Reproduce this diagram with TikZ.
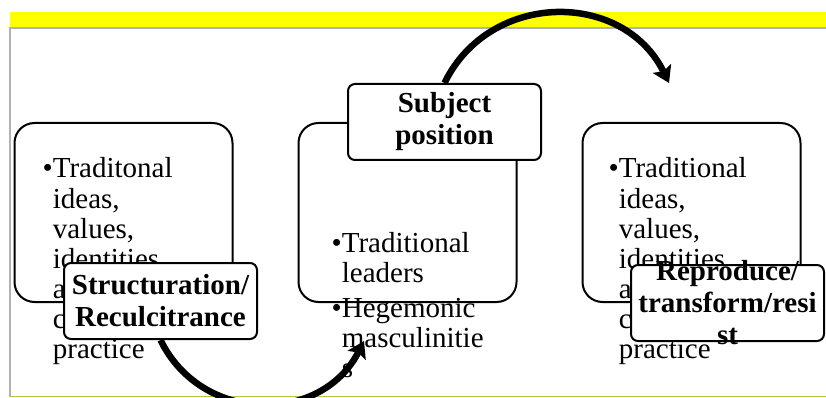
\documentclass[tikz,border=0pt]{standalone}
\usepackage{fontspec}
\setmainfont{Liberation Serif}
\usetikzlibrary{arrows.meta,backgrounds}
\definecolor{bandyellow}{RGB}{255,255,0}
\definecolor{framegray}{RGB}{178,178,178}
\definecolor{frameolive}{RGB}{185,196,60}
\begin{document}
\begin{tikzpicture}[x=1pt, y=1pt]

    % Styles
    \tikzstyle{bigbox} = [rectangle, rounded corners=20pt, minimum width=218pt, minimum height=179pt, draw=black, line width=2pt, fill=white]
    \tikzstyle{tagbox} = [rectangle, rounded corners=7pt, minimum width=193pt, minimum height=76pt, inner sep=0pt, draw=black, line width=2pt, fill=white, font=\bfseries\fontsize{29}{32}\selectfont]
    \tikzstyle{bullets} = [inner sep=0pt, anchor=base west, font=\fontsize{29}{30}\selectfont]
    \tikzstyle{curvearrow} = [line width=6.5pt, -{Stealth[length=16pt, width=20pt, inset=3pt]}]

    \useasboundingbox (0,0) rectangle (826,-398);

    % Boxes
    \node (box1) [bigbox] at (123.5,-212.5) {};
    \node (box2) [bigbox, right of=box1, node distance=284pt] {};
    \node (box3) [bigbox, right of=box2, node distance=284pt] {};

    % Texts
    \node (txt1) [bullets] at ([shift={(29,-56)}]box1.north west) {\begin{tabular}[t]{@{}l@{}l@{}}
        \textbullet & Traditonal\\ & ideas,\\ & values,\\ & identities\\ & and\\ & cultural\\ & practice
    \end{tabular}};
    \node (txt2) [bullets] at ([shift={(34,-130)}]box2.north west) {\begin{tabular}[t]{@{}l@{}l@{}}
        \textbullet & Traditional\\ & leaders\\[5pt] \textbullet & Hegemonic\\ & masculinitie\\ & s
    \end{tabular}};
    \node (txt3) [bullets] at ([shift={(27,-56)}]box3.north west) {\begin{tabular}[t]{@{}l@{}l@{}}
        \textbullet & Traditional\\ & ideas,\\ & values,\\ & identities\\ & and\\ & cultural\\ & practice
    \end{tabular}};

    % Labels
    \node (str) [tagbox, xshift=37pt, yshift=2pt] at (box1.south) {\parbox[c][76pt][c]{190pt}{\centering Structuration/\\Reculcitrance}};
    \node (sub) [tagbox, xshift=37pt] at (box2.north) {\parbox[c][76pt][c]{190pt}{\centering Subject\\position}};
    \node (rep) [tagbox, xshift=36pt] at (box3.south) {\parbox[c][76pt][c]{190pt}{\centering Reproduce/\\transform/resi\\st}};

    % Frame and arrows
    \begin{scope}[on background layer]
        \fill [bandyellow] (10,-12) rectangle (826,-27);
        \draw [framegray, line width=2pt] (9.5,-397) -- (9.5,-28) -- (826,-28);
        \draw [frameolive, line width=1.5pt] (9,-396.5) -- (826,-396.5);
        \coordinate (tip1) at (669,-83);
        \coordinate (tip2) at (364,-341);
        \draw [curvearrow] (sub.north) to[out=64, in=116, looseness=1.18] (tip1);
        \draw [curvearrow] (str.south) to[out=-64, in=243, looseness=1.18] (tip2);
    \end{scope}

\end{tikzpicture}
\end{document}
